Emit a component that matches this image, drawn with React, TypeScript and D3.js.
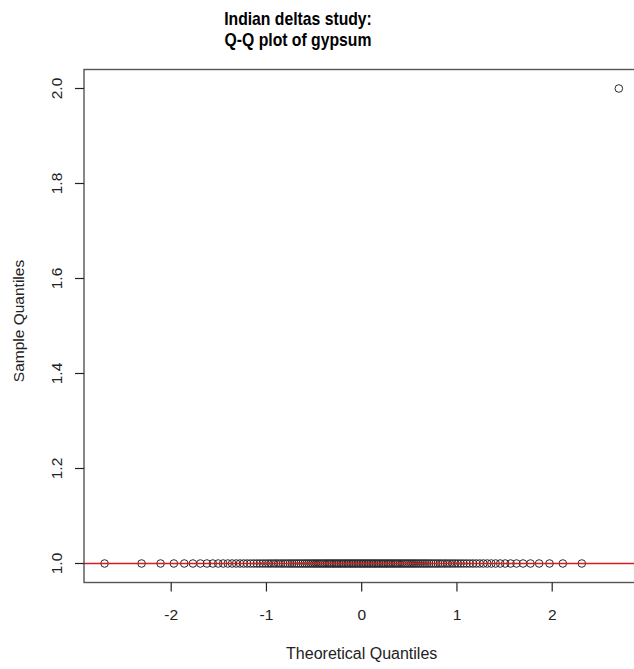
import React from "react";
import * as d3 from "d3";

// Sample data (gypsum): distinct values and how many times each occurs
const sampleValues = [1, 2];
const sampleCounts = [143, 1];
const xTicks = [-2, -1, 0, 1, 2];
const yTicks = [1.0, 1.2, 1.4, 1.6, 1.8, 2.0];
const titleLines = ["Indian deltas study:", "Q-Q plot of gypsum"];
const xTitle = "Theoretical Quantiles";
const yTitle = "Sample Quantiles";

// inverse standard normal CDF (Acklam)
function qnorm(p: number): number {
  const a = [-3.969683028665376e1, 2.209460984245205e2, -2.759285104469687e2, 1.38357751867269e2, -3.066479806614716e1, 2.506628277459239];
  const b = [-5.447609879822406e1, 1.615858368580409e2, -1.556989798598866e2, 6.680131188771972e1, -1.328068155288572e1];
  const c = [-7.784894002430293e-3, -3.223964580411365e-1, -2.400758277161838, -2.549732539343734, 4.374664141464968, 2.938163982698783];
  const d = [7.784695709041462e-3, 3.224671290700398e-1, 2.445134137142996, 3.754408661907416];
  const pl = 0.02425;
  let q: number, r: number;
  if (p < pl) {
    q = Math.sqrt(-2 * Math.log(p));
    return (((((c[0] * q + c[1]) * q + c[2]) * q + c[3]) * q + c[4]) * q + c[5]) / ((((d[0] * q + d[1]) * q + d[2]) * q + d[3]) * q + 1);
  } else if (p <= 1 - pl) {
    q = p - 0.5;
    r = q * q;
    return ((((((a[0] * r + a[1]) * r + a[2]) * r + a[3]) * r + a[4]) * r + a[5]) * q) / (((((b[0] * r + b[1]) * r + b[2]) * r + b[3]) * r + b[4]) * r + 1);
  }
  q = Math.sqrt(-2 * Math.log(1 - p));
  return -(((((c[0] * q + c[1]) * q + c[2]) * q + c[3]) * q + c[4]) * q + c[5]) / ((((d[0] * q + d[1]) * q + d[2]) * q + d[3]) * q + 1);
}

const sample: number[] = [];
sampleValues.forEach((v, i) => {
  for (let k = 0; k < sampleCounts[i]; k++) sample.push(v);
});
sample.sort((a, b) => a - b);
const n = sample.length;
const aPP = n <= 10 ? 3 / 8 : 0.5;
const points = sample.map((y, i) => ({ x: qnorm((i + 1 - aPP) / (n + 1 - 2 * aPP)), y }));

// qqline through quartiles
const yq1 = d3.quantile(sample, 0.25)!;
const yq3 = d3.quantile(sample, 0.75)!;
const xq1 = qnorm(0.25);
const xq3 = qnorm(0.75);
const slope = (yq3 - yq1) / (xq3 - xq1);
const intercept = yq1 - slope * xq1;

const xExt = d3.extent(points, (p) => p.x) as [number, number];
const yExt = d3.extent(points, (p) => p.y) as [number, number];
const xPad = (xExt[1] - xExt[0]) * 0.04;
const yPad = (yExt[1] - yExt[0]) * 0.04;

const L = 84, R = 639.4, T = 69.5, B = 582.5;
const font = "'Liberation Sans', Arial, Helvetica, sans-serif";

export default function App() {
  const x = d3.scaleLinear().domain([xExt[0] - xPad, xExt[1] + xPad]).range([L, R]);
  const y = d3.scaleLinear().domain([yExt[0] - yPad, yExt[1] + yPad]).range([B, T]);
  const [dx0, dx1] = x.domain();
  const axisColor = "#555";
  const path = d3.line<number>().x((d) => x(d)).y((d) => y(intercept + slope * d))([dx0, dx1]) || "";
  return (
    <svg width={634} height={669} style={{ position: "absolute", left: 0, top: 0, background: "#fff" }} fontFamily={font}>
      <rect x={0} y={0} width={634} height={669} fill="#fff" />
      {titleLines.map((t, i) => (
        <text
          key={i}
          transform={`translate(298,${25 + i * 21}) scale(0.9,1)`}
          textAnchor="middle"
          fontSize={17.5}
          fontWeight="bold"
          fill="#000"
        >
          {t}
        </text>
      ))}
      {points.map((p, i) => (
        <circle key={i} cx={x(p.x)} cy={y(p.y)} r={3.8} fill="none" stroke="#2a2a2a" strokeWidth={1} />
      ))}
      <path d={path} fill="none" style={{ stroke: "rgb(215,30,30)", strokeWidth: 1.5 }} />
      <rect x={L} y={T} width={R - L} height={B - T} fill="none" stroke={axisColor} strokeWidth={1.4} />
      {xTicks.map((t) => (
        <g key={t}>
          <line x1={x(t)} x2={x(t)} y1={B} y2={B + 9} stroke="#222" strokeWidth={1.2} />
          <text x={x(t)} y={620} textAnchor="middle" fontSize={15.5} fill="#222">
            {t}
          </text>
        </g>
      ))}
      {yTicks.map((t) => (
        <g key={t}>
          <line x1={L - 9} x2={L} y1={y(t)} y2={y(t)} stroke="#222" strokeWidth={1.2} />
          <text transform={`translate(62,${y(t)}) rotate(-90)`} textAnchor="middle" fontSize={15.5} fill="#222">
            {t.toFixed(1)}
          </text>
        </g>
      ))}
      <text x={(L + R) / 2} y={659} textAnchor="middle" fontSize={16} fill="#222">
        {xTitle}
      </text>
      <text transform={`translate(24,321) rotate(-90)`} textAnchor="middle" fontSize={15.5} fill="#222">
        {yTitle}
      </text>
    </svg>
  );
}
